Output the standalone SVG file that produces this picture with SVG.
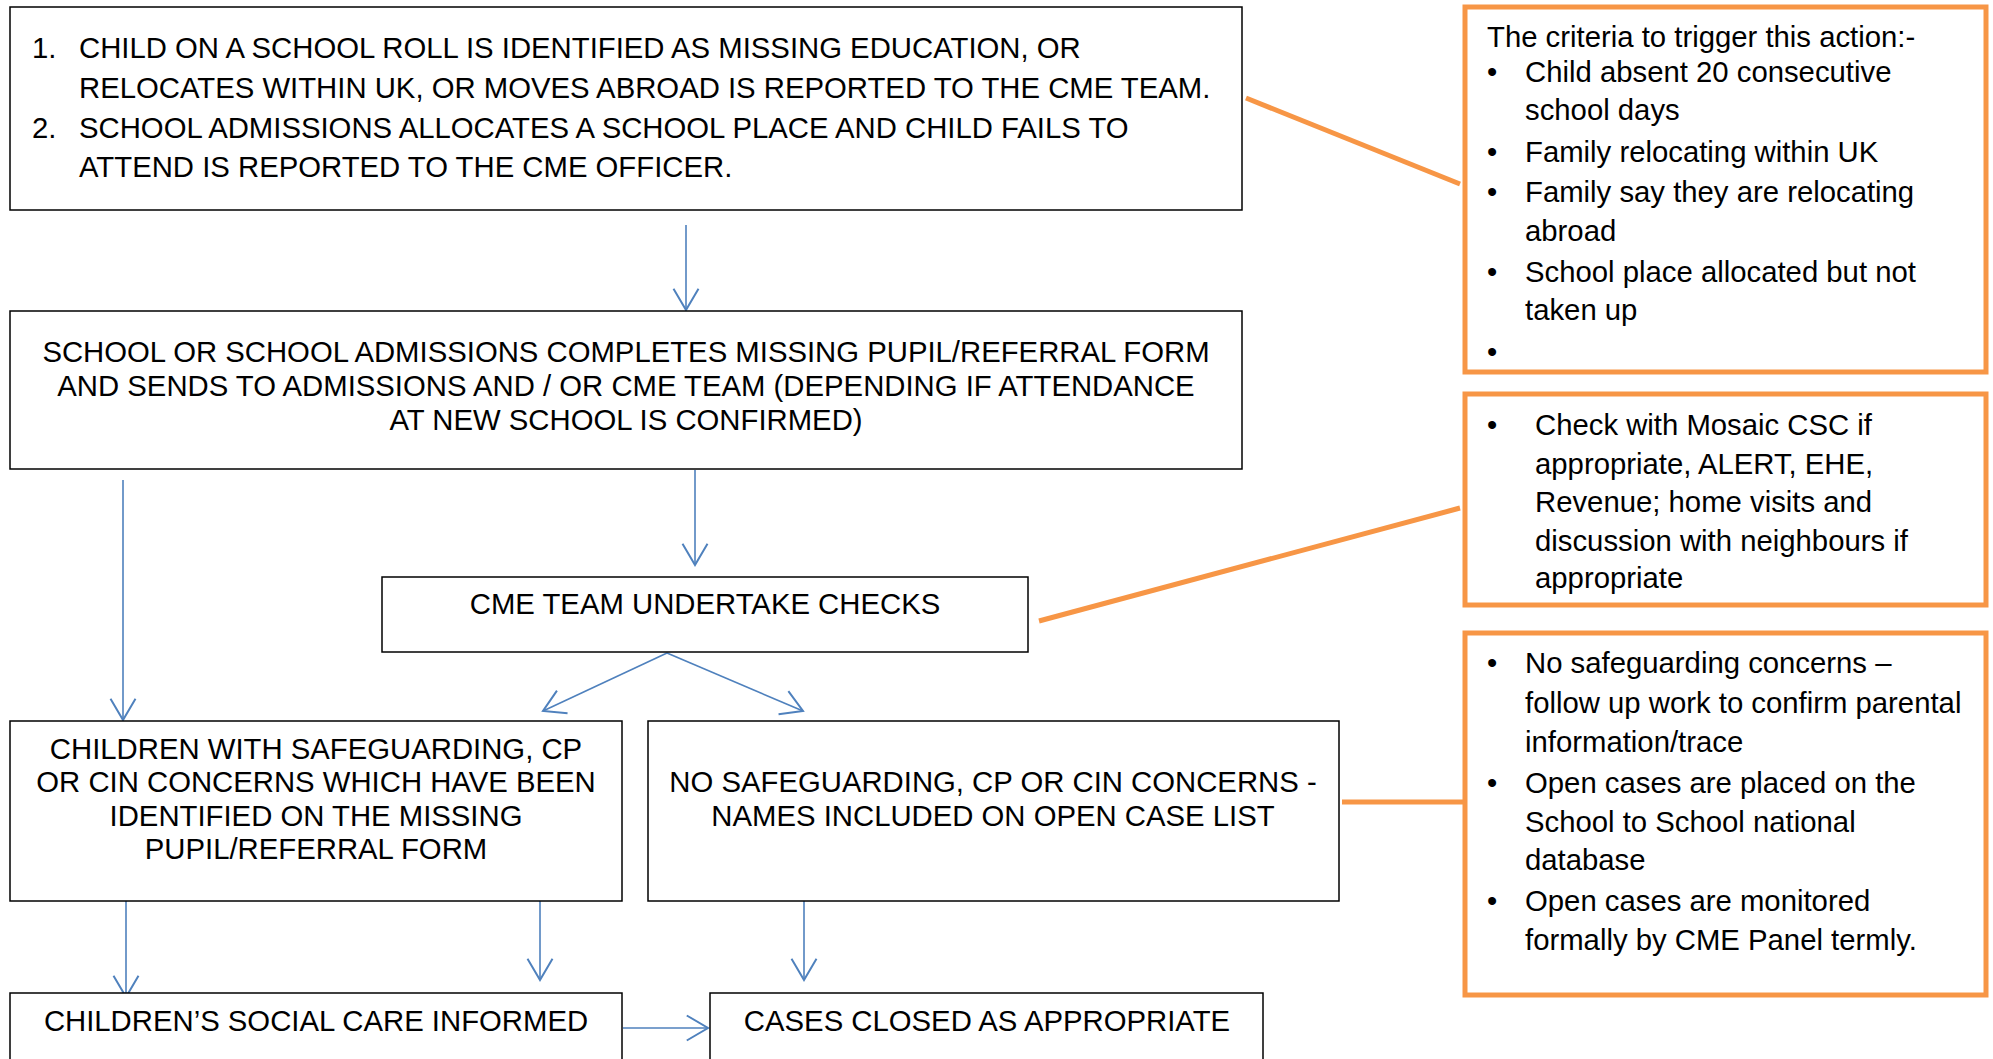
<svg xmlns="http://www.w3.org/2000/svg" width="1993" height="1059" viewBox="0 0 1993 1059">
<style>
.box{fill:#fff;stroke:#000;stroke-width:1.5}
.obox{fill:#fff;stroke:#F79646;stroke-width:5}
.t{font-family:"Liberation Sans",Arial,sans-serif;font-size:29.3px;fill:#000}
.c{text-anchor:middle}
.o{font-family:"Liberation Sans",Arial,sans-serif;font-size:29.3px;fill:#000}
.bl{fill:none;stroke:#4F81BD;stroke-width:1.6}
.ol{fill:none;stroke:#F79646;stroke-width:5}
</style>
<defs>
<marker id="ah" markerUnits="userSpaceOnUse" markerWidth="30" markerHeight="30" viewBox="-20 -12 22 24" refX="0" refY="0" orient="auto">
<path d="M-17,-10 L0,0 L-17,10" fill="none" stroke="#4F81BD" stroke-width="1.6"/>
</marker>
</defs>
<rect width="1993" height="1059" fill="#fff"/>

<g id="connectors">
<line class="bl" x1="686" y1="225" x2="686" y2="310" marker-end="url(#ah)"/>
<line class="bl" x1="695" y1="470" x2="695" y2="565" marker-end="url(#ah)"/>
<line class="bl" x1="123" y1="480" x2="123" y2="720" marker-end="url(#ah)"/>
<line class="bl" x1="667" y1="653" x2="543" y2="711" marker-end="url(#ah)"/>
<line class="bl" x1="667" y1="653" x2="803" y2="711" marker-end="url(#ah)"/>
<line class="bl" x1="126" y1="901" x2="126" y2="997" marker-end="url(#ah)"/>
<line class="bl" x1="540" y1="901" x2="540" y2="980" marker-end="url(#ah)"/>
<line class="bl" x1="804" y1="901" x2="804" y2="980" marker-end="url(#ah)"/>
<line class="bl" x1="623" y1="1028" x2="708" y2="1028" stroke-width="3" marker-end="url(#ah)"/>
<line class="ol" x1="1246" y1="98" x2="1460" y2="184"/>
<line class="ol" x1="1039" y1="621" x2="1460" y2="508"/>
<line class="ol" x1="1342" y1="802" x2="1464" y2="802"/>
</g>

<g id="n1">
<rect class="box" x="10" y="7" width="1232" height="203"/>
<text class="t" x="32" y="58">1.</text>
<text class="t" x="79" y="58">CHILD ON A SCHOOL ROLL IS IDENTIFIED AS MISSING EDUCATION, OR</text>
<text class="t" x="79" y="98">RELOCATES WITHIN UK, OR MOVES ABROAD IS REPORTED TO THE CME TEAM.</text>
<text class="t" x="32" y="138">2.</text>
<text class="t" x="79" y="138">SCHOOL ADMISSIONS ALLOCATES A SCHOOL PLACE AND CHILD FAILS TO</text>
<text class="t" x="79" y="177">ATTEND IS REPORTED TO THE CME OFFICER.</text>
</g>

<g id="n2">
<rect class="box" x="10" y="311" width="1232" height="158"/>
<text class="t c" x="626" y="362">SCHOOL OR SCHOOL ADMISSIONS COMPLETES MISSING PUPIL/REFERRAL FORM</text>
<text class="t c" x="626" y="396">AND SENDS TO ADMISSIONS AND / OR CME TEAM (DEPENDING IF ATTENDANCE</text>
<text class="t c" x="626" y="430">AT NEW SCHOOL IS CONFIRMED)</text>
</g>

<g id="n3">
<rect class="box" x="382" y="577" width="646" height="75"/>
<text class="t c" x="705" y="614">CME TEAM UNDERTAKE CHECKS</text>
</g>

<g id="n4">
<rect class="box" x="10" y="721" width="612" height="180"/>
<text class="t c" x="316" y="759">CHILDREN WITH SAFEGUARDING, CP</text>
<text class="t c" x="316" y="792">OR CIN CONCERNS WHICH HAVE BEEN</text>
<text class="t c" x="316" y="826">IDENTIFIED ON THE MISSING</text>
<text class="t c" x="316" y="859">PUPIL/REFERRAL FORM</text>
</g>

<g id="n5">
<rect class="box" x="648" y="721" width="691" height="180"/>
<text class="t c" x="993" y="792">NO SAFEGUARDING, CP OR CIN CONCERNS -</text>
<text class="t c" x="993" y="826">NAMES INCLUDED ON OPEN CASE LIST</text>
</g>

<g id="n6">
<rect class="box" x="10" y="993" width="612" height="80"/>
<text class="t c" x="316" y="1031">CHILDREN’S SOCIAL CARE INFORMED</text>
</g>

<g id="n7">
<rect class="box" x="710" y="993" width="553" height="80"/>
<text class="t c" x="987" y="1031">CASES CLOSED AS APPROPRIATE</text>
</g>

<g id="n8">
<rect class="obox" x="1465" y="7" width="521" height="365"/>
<text class="o" x="1487" y="47">The criteria to trigger this action:-</text>
<text class="o" x="1487" y="82">•</text>
<text class="o" x="1525" y="82">Child absent 20 consecutive</text>
<text class="o" x="1525" y="120">school days</text>
<text class="o" x="1487" y="162">•</text>
<text class="o" x="1525" y="162">Family relocating within UK</text>
<text class="o" x="1487" y="202">•</text>
<text class="o" x="1525" y="202">Family say they are relocating</text>
<text class="o" x="1525" y="241">abroad</text>
<text class="o" x="1487" y="282">•</text>
<text class="o" x="1525" y="282">School place allocated but not</text>
<text class="o" x="1525" y="320">taken up</text>
<text class="o" x="1487" y="362">•</text>
</g>

<g id="n9">
<rect class="obox" x="1465" y="394" width="521" height="211"/>
<text class="o" x="1487" y="435">•</text>
<text class="o" x="1535" y="435">Check with Mosaic CSC if</text>
<text class="o" x="1535" y="474">appropriate, ALERT, EHE,</text>
<text class="o" x="1535" y="512">Revenue; home visits and</text>
<text class="o" x="1535" y="551">discussion with neighbours if</text>
<text class="o" x="1535" y="588">appropriate</text>
</g>

<g id="n10">
<rect class="obox" x="1465" y="633" width="521" height="362"/>
<text class="o" x="1487" y="673">•</text>
<text class="o" x="1525" y="673">No safeguarding concerns –</text>
<text class="o" x="1525" y="713">follow up work to confirm parental</text>
<text class="o" x="1525" y="752">information/trace</text>
<text class="o" x="1487" y="793">•</text>
<text class="o" x="1525" y="793">Open cases are placed on the</text>
<text class="o" x="1525" y="832">School to School national</text>
<text class="o" x="1525" y="870">database</text>
<text class="o" x="1487" y="911">•</text>
<text class="o" x="1525" y="911">Open cases are monitored</text>
<text class="o" x="1525" y="950">formally by CME Panel termly.</text>
</g>
</svg>
